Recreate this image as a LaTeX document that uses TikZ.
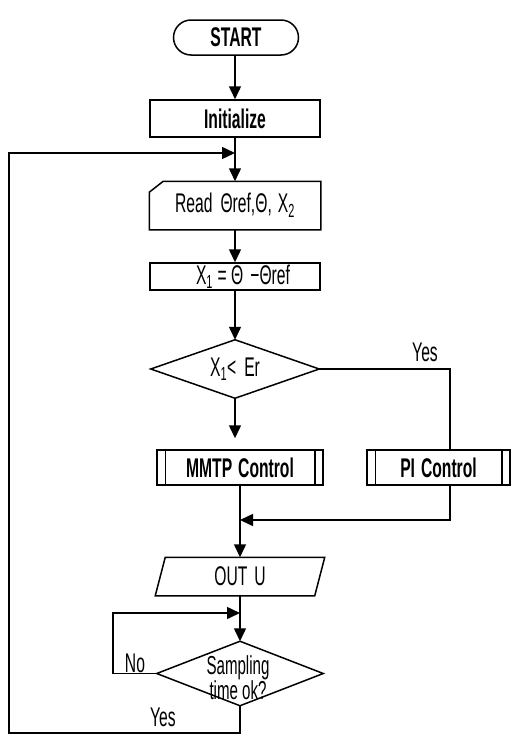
\documentclass[tikz,border=0pt]{standalone}
\usepackage{fontspec}
\setmainfont{Liberation Sans}[FakeStretch=0.58]
\usetikzlibrary{shapes.misc,arrows.meta,calc}
\begin{document}
\begin{tikzpicture}[x=1pt,y=-1pt,line width=1.5pt,
  every node/.style={font=\fontsize{27}{27}\selectfont},
  box/.style={draw,rectangle,inner sep=0pt},
  plain/.style={rectangle,inner sep=0pt},
  arr/.style={-{Triangle[length=13pt,width=12pt]}},
  bold/.style={font=\fontsize{27}{27}\selectfont\bfseries}]
\useasboundingbox (0,0) rectangle (514,734);

\node[draw,rounded rectangle,minimum width=125pt,minimum height=35pt,inner sep=0pt,bold] (start) at (236,37.5) {START};
\node[box,minimum width=170pt,minimum height=37pt,bold] (init) at (235,118.5) {Initialize};
\node[plain,minimum width=170pt,minimum height=47pt] (read) at (235,205.5) {Read\hspace{8pt}Θref,Θ,\hspace{6pt}X\textsubscript{2}};
\draw ($(read.north west)+(14,0)$) -- (read.north east) -- (read.south east) -- (read.south west) -- ($(read.north west)+(0,11)$) -- cycle;
\node[box,minimum width=170pt,minimum height=27pt] (x1) at (235,276.5) {\hspace{16pt}X\textsubscript{1}\,=\,Θ\hspace{7pt}−Θref};
\node[plain,minimum width=167pt,minimum height=57pt] (d1) at (235,369) {X\textsubscript{1}<\hspace{8pt}Er};
\draw (d1.north) -- (d1.east) -- (d1.south) -- (d1.west) -- cycle;

\node[box,minimum width=166pt,minimum height=35pt,bold] (mm) at (240,467.5) {MMTP\hspace{6pt}Control};
\draw ($(mm.north west)+(9,0)$) -- ($(mm.south west)+(9,0)$);
\draw ($(mm.north east)+(-9,0)$) -- ($(mm.south east)+(-9,0)$);
\node[box,minimum width=143pt,minimum height=35pt,bold] (pi) at (438.5,467.5) {PI\hspace{6pt}Control};
\draw ($(pi.north west)+(9,0)$) -- ($(pi.south west)+(9,0)$);
\draw ($(pi.north east)+(-9,0)$) -- ($(pi.south east)+(-9,0)$);

\node[plain,minimum width=168pt,minimum height=37pt] (out) at (240,576.5) {OUT\hspace{7pt}U};
\draw ($(out.north west)+(10,0)$) -- (out.north east) -- ($(out.south east)+(-10,0)$) -- (out.south west) -- cycle;

\node[plain,minimum width=165pt,minimum height=63pt] (d2) at (240,673.5) {};
\draw (d2.north) -- (d2.east) -- (d2.south) -- (d2.west) -- cycle;
\node[plain,align=center,font=\fontsize{26}{24}\selectfont] (d2t) at (238,678) {Sampling\\time ok?};

% connectors
\draw[arr] (start.south -| init.north) -- (init.north);
\draw[arr] (init.south) -- (read.north);
\draw[arr] (read.south) -- (x1.north);
\draw[arr] (x1.south) -- (d1.north);
\draw[arr,shorten >=11pt] (d1.south) -- (d1.south |- mm.north);

\coordinate (yc) at (450,369);
\draw (d1.east) -- (yc) -- (yc |- pi.north);
\node (yes1) at (425,352) {Yes};
\coordinate (mj) at (240,520);
\draw[arr] (yc |- pi.south) -- (yc |- mj) -- (mj);
\draw[arr] (mm.south) -- (out.north);
\draw[arr] (out.south) -- (d2.north);

\coordinate (nl) at (113,613);
\coordinate (nj) at (240,613);
\draw[arr] (d2.west) -| (nl) -- (nj);
\node (no) at (135,663) {No};

\coordinate (yb) at (240,733);
\coordinate (yl) at (9,733);
\coordinate (yt) at (9,153);
\coordinate (yj) at (235,153);
\draw[arr] (d2.south) -- (yb) -- (yl) -- (yt) -- (yj);
\node (yes2) at (163,717) {Yes};
\end{tikzpicture}
\end{document}
